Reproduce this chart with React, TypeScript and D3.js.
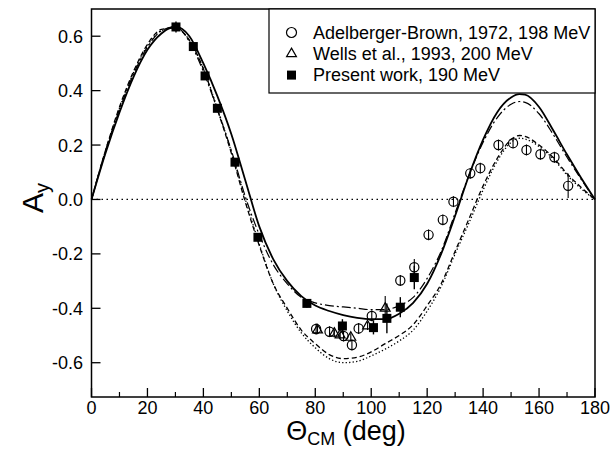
import React from 'react';
import * as d3 from 'd3';

// theory curves, sampled at these angles (deg)
const thetaGrid = [0, 5, 10, 15, 20, 25, 30, 35, 40, 45, 50, 55, 60, 65, 70, 75, 80, 85, 90, 95, 100, 105, 110, 115, 120, 125, 130, 135, 140, 145, 150, 153, 155, 160, 165, 170, 175, 180];
const solidCurve = [0, 0.17, 0.32, 0.45, 0.55, 0.61, 0.635, 0.6, 0.5, 0.38, 0.24, 0.07, -0.1, -0.22, -0.3, -0.355, -0.39, -0.41, -0.425, -0.435, -0.44, -0.44, -0.42, -0.38, -0.31, -0.2, -0.06, 0.09, 0.22, 0.32, 0.375, 0.387, 0.385, 0.34, 0.255, 0.165, 0.08, 0];
const dashDotCurve = [0, 0.18, 0.33, 0.46, 0.56, 0.62, 0.635, 0.58, 0.47, 0.33, 0.18, 0.01, -0.13, -0.24, -0.31, -0.36, -0.38, -0.39, -0.395, -0.4, -0.405, -0.405, -0.39, -0.36, -0.29, -0.19, -0.05, 0.09, 0.21, 0.3, 0.35, 0.36, 0.357, 0.315, 0.24, 0.155, 0.075, 0];
const dashedCurve = [0, 0.18, 0.34, 0.47, 0.57, 0.625, 0.63, 0.585, 0.48, 0.33, 0.17, -0.01, -0.17, -0.31, -0.4, -0.48, -0.53, -0.57, -0.585, -0.58, -0.56, -0.53, -0.5, -0.46, -0.39, -0.31, -0.19, -0.07, 0.05, 0.15, 0.22, 0.235, 0.232, 0.2, 0.155, 0.095, 0.045, 0];
const dottedCurve = [0, 0.175, 0.335, 0.465, 0.565, 0.62, 0.63, 0.585, 0.48, 0.335, 0.175, 0, -0.165, -0.31, -0.41, -0.49, -0.545, -0.585, -0.6, -0.595, -0.575, -0.55, -0.52, -0.48, -0.41, -0.32, -0.2, -0.085, 0.035, 0.14, 0.21, 0.225, 0.222, 0.195, 0.15, 0.09, 0.04, 0];

// Adelberger-Brown 1972 (open circles)
const abAngle = [80.3, 85.1, 90.1, 93.1, 95.5, 100.2, 110.4, 115.4, 120.5, 125.6, 129.4, 135.4, 139, 145.5, 150.7, 155.5, 160.5, 165.5, 170.4];
const abValue = [-0.476, -0.486, -0.502, -0.535, -0.474, -0.428, -0.298, -0.249, -0.13, -0.075, -0.008, 0.096, 0.115, 0.2, 0.207, 0.182, 0.166, 0.155, 0.05];
const abError = [0.02, 0.02, 0.02, 0.02, 0.02, 0.02, 0.02, 0.03, 0.02, 0.02, 0.02, 0.02, 0.02, 0.02, 0.02, 0.02, 0.02, 0.02, 0.045];

// Wells et al. 1993 (open triangles)
const wellsAngle = [80.8, 86.8, 88.9, 92.7, 98.7, 105];
const wellsValue = [-0.48, -0.492, -0.498, -0.507, -0.465, -0.4];
const wellsError = [0.015, 0.015, 0.015, 0.015, 0.015, 0.045];

// present work (filled squares)
const presentAngle = [30.2, 36.4, 40.6, 45, 51.3, 59.5, 77, 89.7, 100.8, 105.6, 110.4, 115.4];
const presentValue = [0.634, 0.562, 0.454, 0.335, 0.137, -0.139, -0.382, -0.465, -0.471, -0.437, -0.396, -0.287];
const presentError = [0.02, 0.01, 0.01, 0.01, 0.01, 0.015, 0.015, 0.025, 0.025, 0.055, 0.037, 0.043];

const xTicks = [0, 20, 40, 60, 80, 100, 120, 140, 160, 180];
const xMinorTicks = [10, 30, 50, 70, 90, 110, 130, 150, 170];
const yTicks = [-0.6, -0.4, -0.2, 0, 0.2, 0.4, 0.6];

const legendLabels = [
  'Adelberger-Brown, 1972, 198 MeV',
  'Wells et al., 1993, 200 MeV',
  'Present work, 190 MeV',
];

const width = 613;
const height = 449;
const left = 91.5, right = 595, top = 9, bottom = 397;
const font = 'Liberation Sans, Arial, Helvetica, sans-serif';

export default function App() {
  const x = d3.scaleLinear().domain([0, 180]).range([left, right]);
  const y = d3.scaleLinear().domain([-0.726, 0.7]).range([bottom, top]);

  const line = d3.line<number>()
    .x((d, i) => x(thetaGrid[i]))
    .y(d => y(d))
    .curve(d3.curveMonotoneX);

  const curves = [
    { values: dottedCurve, dash: '1.3,2.2', w: 1.3 },
    { values: dashedCurve, dash: '5,3', w: 1.3 },
    { values: dashDotCurve, dash: '9,3,2,3', w: 1.2 },
    { values: solidCurve, dash: null, w: 1.8 },
  ];

  const tri = d3.symbol().type(d3.symbolTriangle).size(42);

  return (
    <svg width={width} height={height} style={{ position: 'absolute', left: 0, top: 0, background: '#fff' }}
      fontFamily={font}>
      {/* zero line */}
      <line x1={left} x2={right} y1={y(0)} y2={y(0)} stroke="#000" strokeWidth={1.2} strokeDasharray="1.5,3.5" />

      {curves.map((c, i) => (
        <path key={i} d={line(c.values) || ''} fill="none" stroke="#000" strokeWidth={c.w}
          strokeDasharray={c.dash || undefined} />
      ))}

      {/* Adelberger-Brown */}
      {abAngle.map((a, i) => (
        <g key={'ab' + i}>
          <line x1={x(a)} x2={x(a)} y1={y(abValue[i] - abError[i])} y2={y(abValue[i] + abError[i])} stroke="#000" strokeWidth={1.1} />
          <circle cx={x(a)} cy={y(abValue[i])} r={4.6} fill="none" stroke="#000" strokeWidth={1.2} />
        </g>
      ))}

      {/* Wells */}
      {wellsAngle.map((a, i) => (
        <g key={'w' + i}>
          <line x1={x(a)} x2={x(a)} y1={y(wellsValue[i] - wellsError[i])} y2={y(wellsValue[i] + wellsError[i])} stroke="#000" strokeWidth={1.1} />
          <path d={tri() || ''} transform={`translate(${x(a)},${y(wellsValue[i])})`} fill="none" stroke="#000" strokeWidth={1.2} />
        </g>
      ))}

      {/* present work */}
      {presentAngle.map((a, i) => (
        <g key={'p' + i}>
          <line x1={x(a)} x2={x(a)} y1={y(presentValue[i] - presentError[i])} y2={y(presentValue[i] + presentError[i])} stroke="#000" strokeWidth={1.4} />
          <rect x={x(a) - 4.5} y={y(presentValue[i]) - 4.5} width={9} height={9} fill="#000" />
        </g>
      ))}

      {/* frame */}
      <rect x={left} y={top} width={right - left} height={bottom - top} fill="none" stroke="#000" strokeWidth={1.5} />

      {/* x axis */}
      {xTicks.map(t => (
        <g key={'xt' + t}>
          <line x1={x(t)} x2={x(t)} y1={bottom} y2={bottom - 9} stroke="#000" strokeWidth={1.3} />
          <text x={x(t)} y={414} fontSize={18} textAnchor="middle">{t}</text>
        </g>
      ))}
      {xMinorTicks.map(t => (
        <line key={'xm' + t} x1={x(t)} x2={x(t)} y1={bottom} y2={bottom - 5} stroke="#000" strokeWidth={1.2} />
      ))}

      {/* y axis */}
      {yTicks.map(t => (
        <g key={'yt' + t}>
          <line x1={left} x2={left + 9} y1={y(t)} y2={y(t)} stroke="#000" strokeWidth={1.3} />
          <text x={83} y={y(t) + 6.5} fontSize={18} textAnchor="end">{d3.format('.1f')(t).replace('−', '-')}</text>
        </g>
      ))}

      {/* axis titles */}
      <text transform={`translate(43,198) rotate(-90)`} fontSize={30} textAnchor="middle">
        A<tspan fontSize={20} dy={6}>y</tspan>
      </text>
      <text x={346} y={440} fontSize={27} textAnchor="middle">
        Θ<tspan fontSize={18} dy={5}>CM</tspan><tspan dy={-5}> (deg)</tspan>
      </text>

      {/* legend */}
      <rect x={269} y={top} width={right - 269} height={84} fill="#fff" stroke="#000" strokeWidth={1.2} />
      {legendLabels.map((l, i) => {
        const ly = 32.5 + i * 21.3;
        return (
          <g key={'lg' + i}>
            {i === 0 && <circle cx={291.5} cy={ly} r={5} fill="none" stroke="#000" strokeWidth={1.2} />}
            {i === 1 && <path d={tri() || ''} transform={`translate(291.5,${ly})`} fill="none" stroke="#000" strokeWidth={1.2} />}
            {i === 2 && <rect x={287} y={ly - 4.5} width={9} height={9} fill="#000" />}
            <text x={313} y={ly + 6.3} fontSize={18}>{l}</text>
          </g>
        );
      })}
    </svg>
  );
}
